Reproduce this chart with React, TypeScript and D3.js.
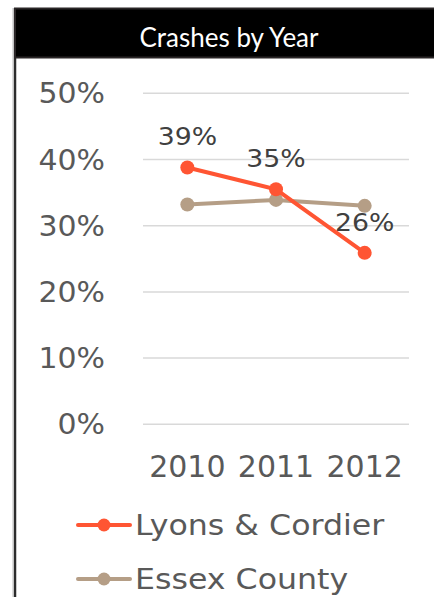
import React from "react";
import * as d3 from "d3";

const years = ["2010", "2011", "2012"];
const lyons = [0.388, 0.355, 0.259];
const essex = [0.332, 0.339, 0.330];
const lyonsLabels = ["39%", "35%", "26%"];
const yTicks = [0, 0.1, 0.2, 0.3, 0.4, 0.5];
const seriesNames = ["Lyons & Cordier", "Essex County"];
const colors = ["#FF5533", "#B59E86"];

const W = 434;
const H = 597;

function T(props: {
  x: number;
  y: number;
  sx: number;
  anchor?: string;
  size: number;
  fill: string;
  dy?: string;
  family?: string;
  children: React.ReactNode;
}) {
  return (
    <text
      transform={`translate(${props.x},${props.y}) scale(${props.sx},1)`}
      dy={props.dy}
      textAnchor={props.anchor || "start"}
      fill={props.fill}
      fontFamily={props.family || "'DejaVu Sans', Verdana, sans-serif"}
      fontSize={props.size}
    >
      {props.children}
    </text>
  );
}

export default function App() {
  const x = d3.scaleBand<string>().domain(years).range([143, 409]);
  const y = d3.scaleLinear().domain([0, 0.5]).range([424.3, 93.3]);
  const cx = (d: string) => (x(d) as number) + x.bandwidth() / 2;
  const line = d3
    .line<number>()
    .x((_, i) => cx(years[i]))
    .y((v) => y(v));
  const series = [lyons, essex];

  return (
    <svg
      width={W}
      height={H}
      style={{ position: "absolute", left: 0, top: 0, background: "#fff" }}
    >
      <rect x={0} y={0} width={W} height={H} fill="#fff" />
      {/* frame */}
      <line x1={15} x2={15} y1={8} y2={H} stroke="#2b2b2b" strokeWidth={2.5} />
      <line x1={13} x2={13} y1={8} y2={H} stroke="#bdbdbd" strokeWidth={1} />
      <rect x={15} y={8.5} width={W} height={49} fill="#000" stroke="#2a2627" strokeWidth={2} />
      <T x={229} y={47} sx={1} anchor="middle" fill="#fff" size={26} family="Lato, 'Open Sans', sans-serif">
        Crashes by Year
      </T>

      {/* grid */}
      {yTicks.map((t) => (
        <g key={t}>
          <line x1={143} x2={409} y1={y(t)} y2={y(t)} stroke="#d9d9d9" strokeWidth={1.5} />
          <T x={105} y={y(t)} dy="0.36em" sx={1.07} anchor="end" fill="#595959" size={28}>
            {d3.format(".0%")(t)}
          </T>
        </g>
      ))}

      {/* x labels */}
      {years.map((yr) => (
        <T key={yr} x={cx(yr)} y={477} sx={1.0} anchor="middle" fill="#595959" size={30}>
          {yr}
        </T>
      ))}

      {[1, 0].map((si) => (
        <g key={si}>
          <path d={line(series[si]) as string} fill="none" stroke={colors[si]} strokeWidth={4} />
          {series[si].map((v, i) => (
            <circle key={i} cx={cx(years[i])} cy={y(v)} r={7} fill={colors[si]} />
          ))}
        </g>
      ))}

      {/* data labels */}
      {lyons.map((v, i) => (
        <T key={i} x={cx(years[i])} y={y(v) - 22} sx={1.07} anchor="middle" fill="#404040" size={25}>
          {lyonsLabels[i]}
        </T>
      ))}

      {/* legend */}
      {seriesNames.map((name, i) => {
        const ly = 525 + i * 54;
        return (
          <g key={name}>
            <line x1={78} x2={130} y1={ly} y2={ly} stroke={colors[i]} strokeWidth={4} strokeLinecap="round" />
            <circle cx={104} cy={ly} r={6.5} fill={colors[i]} />
            <T x={135} y={ly + 10} sx={1.13} fill="#595959" size={28}>
              {name}
            </T>
          </g>
        );
      })}
    </svg>
  );
}
